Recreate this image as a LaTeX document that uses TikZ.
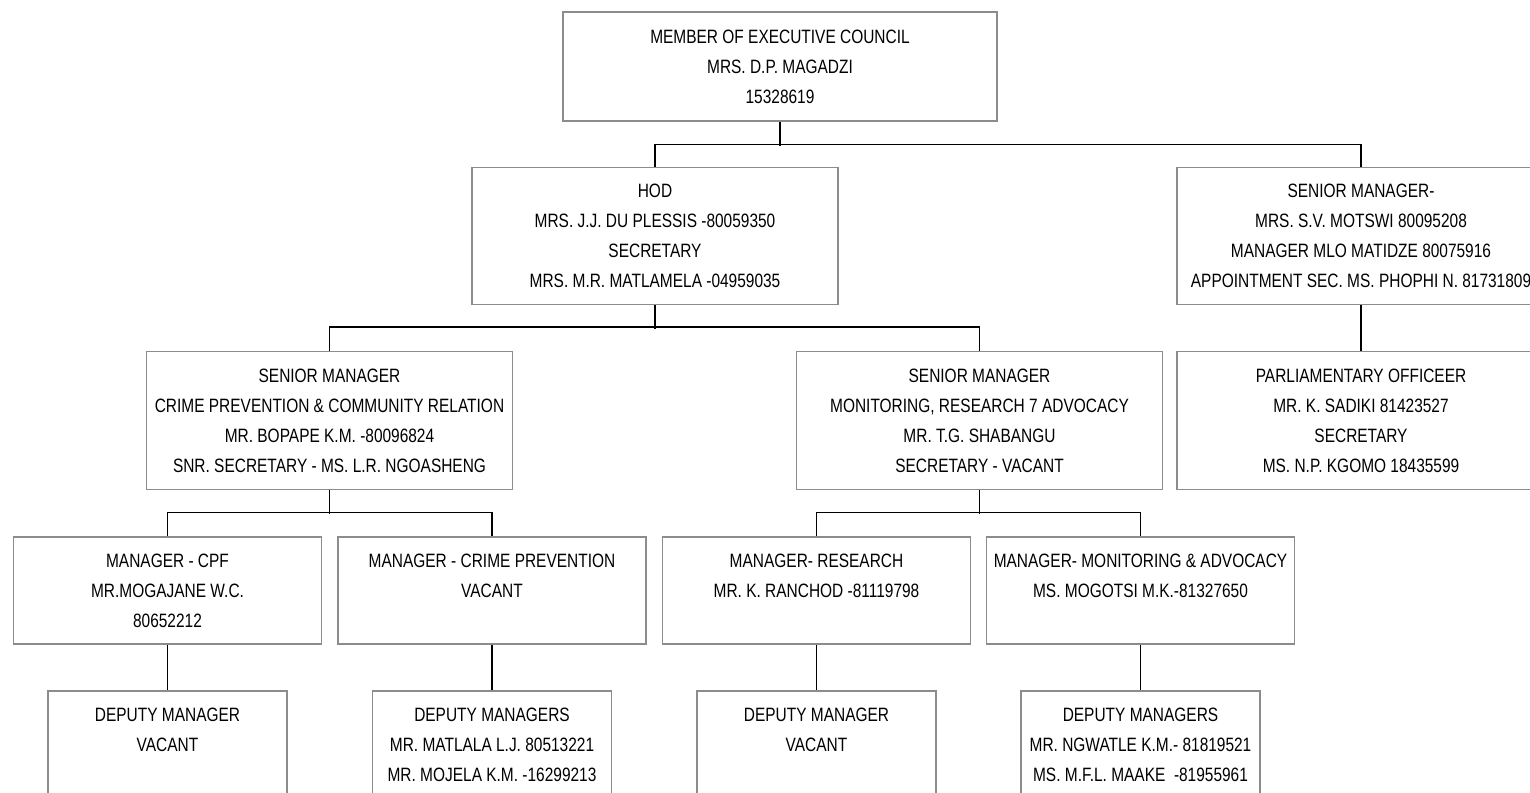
\documentclass[tikz,border=0pt]{standalone}
\usepackage{fontspec}
\setmainfont{Liberation Sans}[FakeStretch=0.8]
\definecolor{boxgray}{RGB}{140,140,140}
\tikzset{
    box/.style={draw=boxgray, line width=0.7pt, fill=white, inner sep=0pt, align=center,
        font=\fontsize{11pt}{17.07pt}\selectfont},
    wide/.style={box, minimum width=7.32cm, minimum height=2.75cm},
    mgr/.style={box, minimum width=6.16cm, minimum height=2.14cm},
    dep/.style={box, minimum width=4.78cm, minimum height=2.76cm},
    link/.style={draw=black, line width=0.8pt}
}
\begin{document}
\begin{tikzpicture}[x=0.02cm, y=-0.02cm]
    \useasboundingbox (0,0) rectangle (1530,793);
    \clip (0,0) rectangle (1530,793);
    % top level
    \node[box, minimum width=8.68cm, minimum height=2.18cm] (mec) at (780,66.5)
        {MEMBER OF EXECUTIVE COUNCIL\\MRS. D.P. MAGADZI\\15328619};
    % second level
    \node[wide] (hod) at (655,236)
        {HOD\\MRS. J.J. DU PLESSIS -80059350\\SECRETARY\\MRS. M.R. MATLAMELA -04959035};
    \node[wide, minimum width=7.36cm] (smr) at (1361,236)
        {SENIOR MANAGER-\\MRS. S.V. MOTSWI 80095208\\MANAGER MLO MATIDZE 80075916\\APPOINTMENT SEC. MS. PHOPHI N. 81731809};
    % third level
    \node[wide] (smc) at (329.5,420.5)
        {SENIOR MANAGER\\CRIME PREVENTION \& COMMUNITY RELATION\\MR. BOPAPE K.M. -80096824\\SNR. SECRETARY - MS. L.R. NGOASHENG};
    \node[wide] (smm) at (979.5,420.5)
        {SENIOR MANAGER\\MONITORING, RESEARCH 7 ADVOCACY\\MR. T.G. SHABANGU\\SECRETARY - VACANT};
    \node[wide, minimum width=7.36cm] (po) at (1361,420.5)
        {PARLIAMENTARY OFFICEER\\MR. K. SADIKI 81423527\\SECRETARY\\MS. N.P. KGOMO 18435599};
    % managers
    \node[mgr] (cpf) at (167.5,590.5) {MANAGER - CPF\\MR.MOGAJANE W.C.\\80652212};
    \node[mgr] (cpr) at (492,590.5) {MANAGER - CRIME PREVENTION\\VACANT\\~};
    \node[mgr] (res) at (816.5,590.5) {MANAGER- RESEARCH\\MR. K. RANCHOD -81119798\\~};
    \node[mgr] (mon) at (1140.5,590.5) {MANAGER- MONITORING \& ADVOCACY\\MS. MOGOTSI M.K.-81327650\\~};
    % deputy managers
    \node[dep] (dcpf) at (167.5,760) {DEPUTY MANAGER\\VACANT\\~\\~};
    \node[dep] (dcpr) at (492,760) {DEPUTY MANAGERS\\MR. MATLALA L.J. 80513221\\MR. MOJELA K.M. -16299213\\~};
    \node[dep] (dres) at (816.5,760) {DEPUTY MANAGER\\VACANT\\~\\~};
    \node[dep] (dmon) at (1140.5,760) {DEPUTY MANAGERS\\MR. NGWATLE K.M.- 81819521\\MS. M.F.L. MAAKE\ \ -81955961\\~};
    % connectors
    \draw[link] (mec.south) -- ++(0,24);
    \draw[link] (hod.north) -- ++(0,-22) -| (smr.north);
    \draw[link] (hod.south) -- ++(0,24);
    \draw[link] (smc.north) -- ++(0,-24) -| (smm.north);
    \draw[link] (smr.south) -- (po.north);
    \draw[link] (smc.south) -- ++(0,24);
    \draw[link] (cpf.north) -- ++(0,-24) -| (cpr.north);
    \draw[link] (smm.south) -- ++(0,24);
    \draw[link] (res.north) -- ++(0,-24) -| (mon.north);
    \foreach \m/\d in {cpf/dcpf, cpr/dcpr, res/dres, mon/dmon}
        \draw[link] (\m.south) -- (\d.north);
\end{tikzpicture}
\end{document}
